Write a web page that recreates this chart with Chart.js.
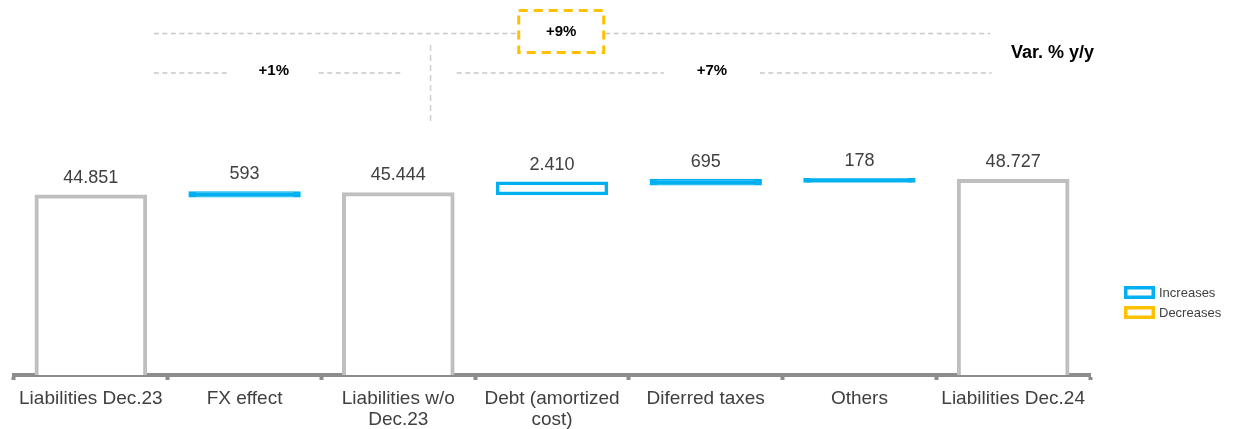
<!DOCTYPE html>
<html>
<head>
<meta charset="utf-8">
<title>Pasivos Dec.23 - Dec.24</title>
<script src="https://cdn.jsdelivr.net/npm/chart.js@4.4.1/dist/chart.umd.min.js"></script>
<style>
    html, body { margin: 0; padding: 0; background: #ffffff; }
    #contenedor { width: 1234px; height: 429px; }
</style>
</head>
<body>
<div id="contenedor"><canvas id="grafico" width="1234" height="429"></canvas></div>
<script>
/* global Chart */

// datos del puente de pasivos
var categorias = [
    "Liabilities Dec.23",
    "FX effect",
    ["Liabilities w/o", "Dec.23"],
    ["Debt (amortized", "cost)"],
    "Diferred taxes",
    "Others",
    "Liabilities Dec.24"
];
var importes = [44851, 593, 45444, 2410, 695, 178, 48727];
var esTotal = [true, false, true, false, false, false, true];
var nombresSeries = ["Totals", "Increases", "Decreases"];

// variaciones y/y: indice desde -> indice hasta
var variaciones = [[0, 2], [2, 6], [0, 6]];

var FUENTE = "'Liberation Sans', Arial, sans-serif";
var GRIS_TEXTO = "#404040";
var AZUL = "#00b0f0";
var NARANJA = "#ffc000";
var GRIS_TOTAL = "#bfbfbf";
var INFLADO = 2;

function formatoMiles(valor)
{
    return String(Math.abs(valor)).replace(/\B(?=(\d{3})+(?!\d))/g, ".");
}

function formatoVariacion(desde, hasta)
{
    var pct = Math.round((importes[hasta] / importes[desde] - 1) * 100);
    return (pct >= 0 ? "+" : "") + pct + "%";
}

function armarSeries()
{
    var totales = [], subidas = [], bajadas = [];
    var acumulado = 0;
    for (var i = 0; i < importes.length; i++) {
        totales.push(null);
        subidas.push(null);
        bajadas.push(null);
        if (esTotal[i]) {
            acumulado = importes[i];
            totales[i] = importes[i];
        } else if (importes[i] >= 0) {
            subidas[i] = [acumulado, acumulado + importes[i]];
            acumulado += importes[i];
        } else {
            bajadas[i] = [acumulado + importes[i], acumulado];
            acumulado += importes[i];
        }
    }
    return {totales: totales, subidas: subidas, bajadas: bajadas};
}

// relleno blanco solo si la barra tiene alto para verse como caja
function rellenoVariacion(color)
{
    return function (ctx) {
        var raw = ctx.raw;
        if (!raw || !ctx.chart.scales.y) {
            return "#ffffff";
        }
        var y = ctx.chart.scales.y;
        var alto = Math.abs(y.getPixelForValue(raw[0]) - y.getPixelForValue(raw[1]));
        return alto > 6 ? "#ffffff" : color;
    };
}

var etiquetasValor = {
    id: "etiquetasValor",
    afterDatasetsDraw: function (chart) {
        var ctx = chart.ctx;
        ctx.save();
        ctx.font = "18px " + FUENTE;
        ctx.fillStyle = GRIS_TEXTO;
        ctx.textAlign = "center";
        ctx.textBaseline = "alphabetic";
        chart.data.datasets.forEach(function (ds, d) {
            var meta = chart.getDatasetMeta(d);
            meta.data.forEach(function (barra, i) {
                if (ds.data[i] === null) {
                    return;
                }
                var arriba = Math.min(barra.y, barra.base) - (d === 0 ? 1 : INFLADO);
                ctx.fillText(formatoMiles(importes[i]), barra.x, arriba - 12);
            });
        });
        ctx.restore();
    }
};

function lineaPunteada(ctx, x1, y1, x2, y2)
{
    ctx.beginPath();
    ctx.moveTo(x1, y1);
    ctx.lineTo(x2, y2);
    ctx.stroke();
}

// lineas de variacion y/y sobre el grafico
var variacionesArriba = {
    id: "variacionesArriba",
    afterDraw: function (chart, args, opts) {
        var ctx = chart.ctx;
        var x = chart.scales.x;
        ctx.save();
        opts.lineas.forEach(function (l, k) {
            var par = variaciones[k];
            var xc = x.getPixelForValue(l.texto);
            ctx.strokeStyle = "#c8c8c8";
            ctx.lineWidth = 1.3;
            ctx.setLineDash([5, 3.5]);
            lineaPunteada(ctx, x.getPixelForValue(l.desde), l.y, xc - l.hueco, l.y);
            lineaPunteada(ctx, xc + l.hueco, l.y, x.getPixelForValue(l.hasta), l.y);
            if (l.caja) {
                ctx.strokeStyle = NARANJA;
                ctx.lineWidth = 3;
                ctx.setLineDash([9, 6]);
                ctx.strokeRect(xc - l.hueco + 1.5, l.y - 23, l.hueco * 2 - 3, 42);
            }
            ctx.fillStyle = "#000000";
            ctx.font = "bold 15px " + FUENTE;
            ctx.textAlign = "center";
            ctx.textBaseline = "middle";
            ctx.fillText(formatoVariacion(par[0], par[1]), xc, l.y - 2);
        });
        // separador vertical
        ctx.strokeStyle = "#d0d0d0";
        ctx.lineWidth = 1.5;
        ctx.setLineDash([6, 4]);
        var xs = x.getPixelForValue(opts.separador);
        lineaPunteada(ctx, xs, 45, xs, 125);

        ctx.setLineDash([]);
        ctx.fillStyle = "#000000";
        ctx.font = "bold 18px " + FUENTE;
        ctx.textAlign = "left";
        ctx.textBaseline = "middle";
        ctx.fillText("Var. % y/y", chart.chartArea.right - 79, 53);
        ctx.restore();
    }
};

var leyenda = {
    id: "leyenda",
    afterDraw: function (chart) {
        var ctx = chart.ctx;
        var x0 = chart.chartArea.right + 34;
        var y0 = 286;
        ctx.save();
        ctx.font = "13px " + FUENTE;
        ctx.textAlign = "left";
        ctx.textBaseline = "middle";
        [1, 2].forEach(function (d, k) {
            var ds = chart.data.datasets[d];
            var y = y0 + k * 20;
            ctx.fillStyle = ds.borderColor;
            ctx.fillRect(x0, y, 31, 13);
            ctx.fillStyle = "#ffffff";
            ctx.fillRect(x0 + 3.5, y + 3.5, 24, 6);
            ctx.fillStyle = GRIS_TEXTO;
            ctx.fillText(ds.label, x0 + 35, y + 7);
        });
        ctx.restore();
    }
};

function generarGraficoPuente(canvas)
{
    var series = armarSeries();
    var data = {
        labels: categorias,
        datasets: [
            {
                label: nombresSeries[0],
                data: series.totales,
                backgroundColor: "#ffffff",
                borderColor: GRIS_TOTAL,
                borderWidth: 4,
                borderSkipped: "start",
                inflateAmount: 1,
                barPercentage: 0.72,
                categoryPercentage: 1,
                grouped: false
            },
            {
                label: nombresSeries[1],
                data: series.subidas,
                backgroundColor: rellenoVariacion(AZUL),
                borderColor: AZUL,
                borderWidth: 3.5,
                borderSkipped: false,
                inflateAmount: INFLADO,
                barPercentage: 0.705,
                categoryPercentage: 1,
                grouped: false
            },
            {
                label: nombresSeries[2],
                data: series.bajadas,
                backgroundColor: rellenoVariacion(NARANJA),
                borderColor: NARANJA,
                borderWidth: 3.5,
                borderSkipped: false,
                inflateAmount: INFLADO,
                barPercentage: 0.705,
                categoryPercentage: 1,
                grouped: false
            }
        ]
    };
    var options = {
        responsive: false,
        animation: false,
        devicePixelRatio: 1,
        layout: {padding: {left: 14, right: 144, top: 135, bottom: 0}},
        plugins: {
            legend: {display: false},
            tooltip: {enabled: false},
            variacionesArriba: {
                separador: 2.21,
                lineas: [
                    {y: 73, desde: 0.41, hasta: 2.03, texto: 1.19, hueco: 45},
                    {y: 73, desde: 2.38, hasta: 5.86, texto: 4.04, hueco: 48},
                    {y: 33.5, desde: 0.41, hasta: 5.85, texto: 3.06, hueco: 44, caja: true}
                ]
            }
        },
        scales: {
            x: {
                z: 1,
                offset: true,
                border: {display: true, color: "#8c8c8c", width: 4},
                grid: {
                    display: true,
                    drawOnChartArea: false,
                    drawTicks: true,
                    tickLength: 5,
                    tickWidth: 4,
                    tickColor: "#8c8c8c"
                },
                ticks: {
                    color: GRIS_TEXTO,
                    font: {family: FUENTE, size: 19, lineHeight: 1.12},
                    padding: 8,
                    autoSkip: false,
                    maxRotation: 0
                },
                afterFit: function (scale) {
                    scale.height = 54;
                }
            },
            y: {
                display: false,
                min: 0,
                max: 60000
            }
        }
    };
    return new Chart(canvas, {
        type: "bar",
        data: data,
        options: options,
        plugins: [etiquetasValor, variacionesArriba, leyenda]
    });
}

generarGraficoPuente(document.getElementById("grafico"));
</script>
</body>
</html>
